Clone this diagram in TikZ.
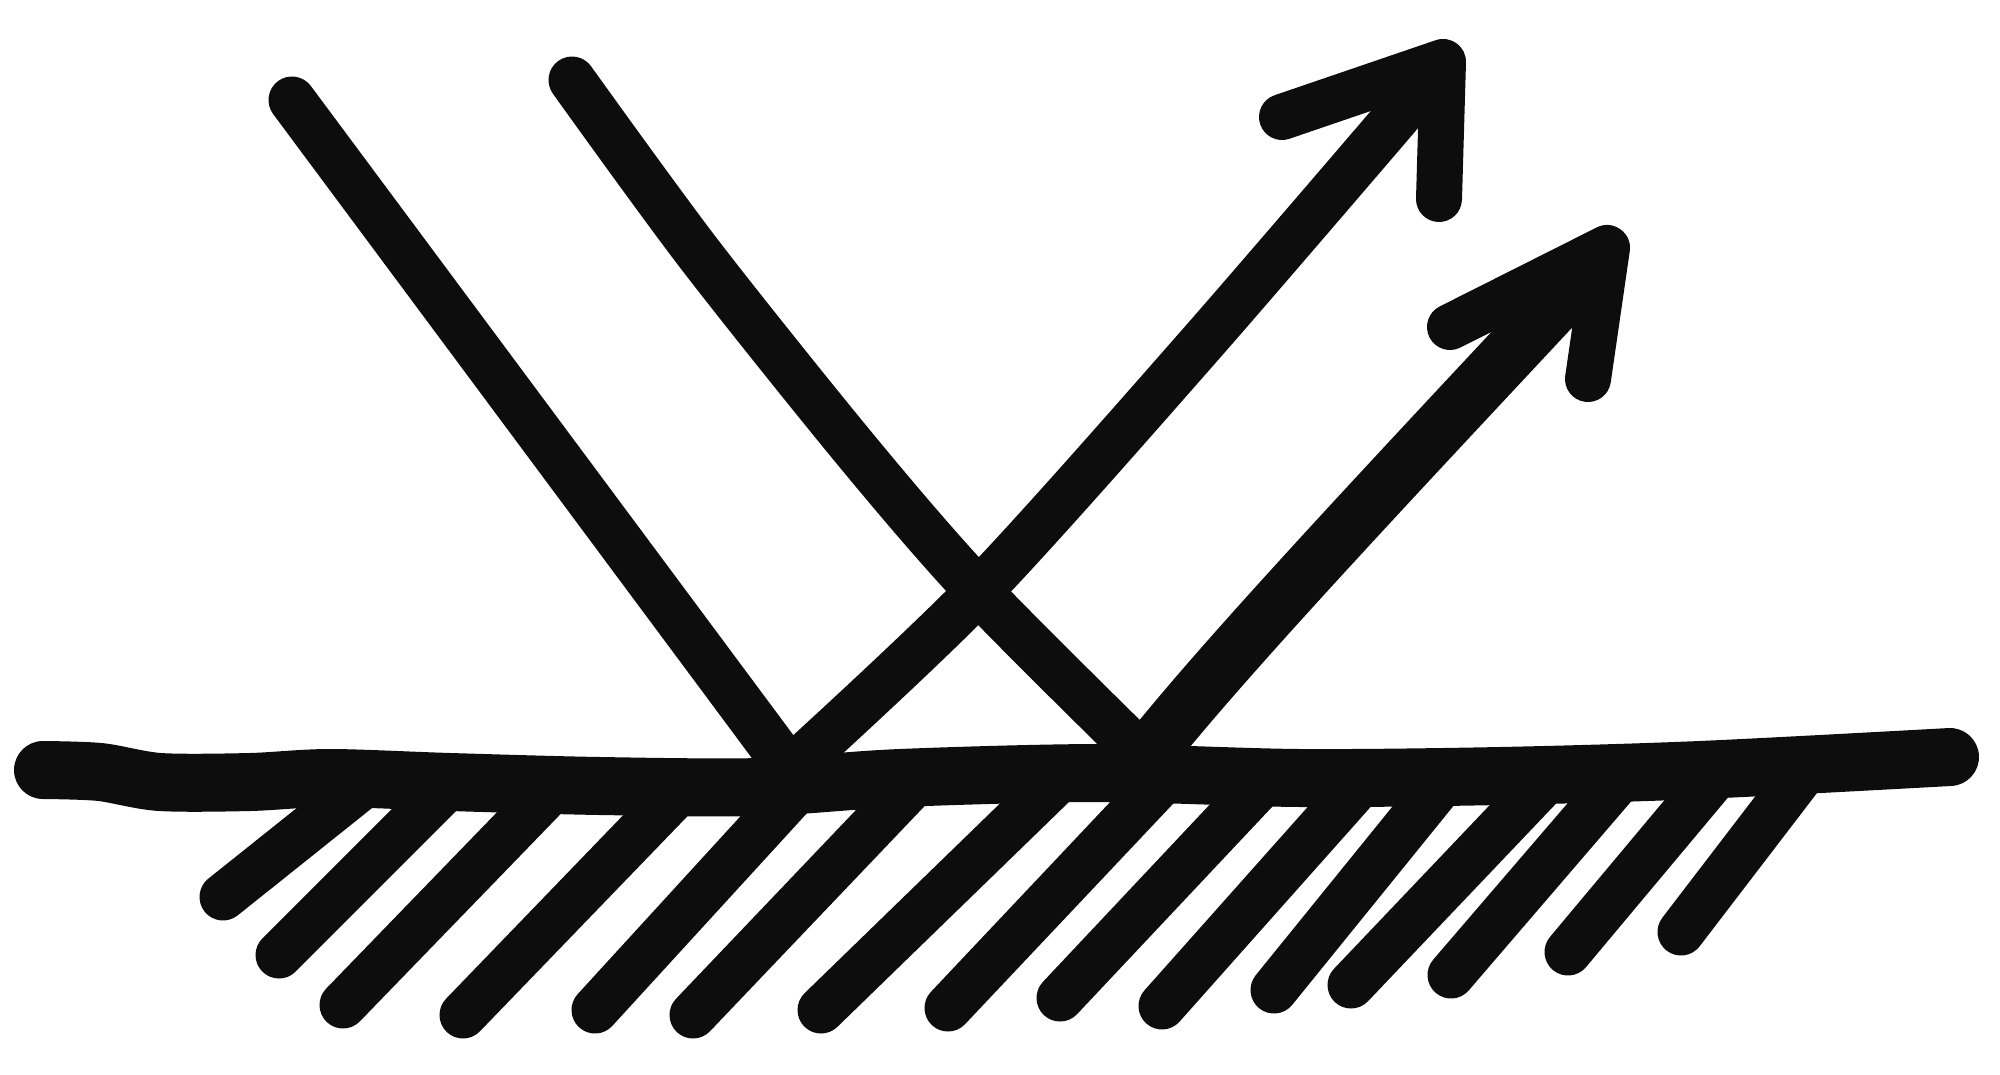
\documentclass[tikz,border=0pt]{standalone}
\usepackage{tikz}
\tikzstyle{surface} = [line width=5.8mm, line cap=round, line join=round]
\tikzstyle{hatch} = [line width=4.7mm, line cap=round]
\tikzstyle{ray} = [line width=4.7mm, line cap=round, line join=round]
\tikzstyle{head} = [line width=4.6mm, line cap=round, line join=round]

\begin{document}
\begin{tikzpicture}[x=0.1mm, y=-0.1mm, color=black!95]
	\useasboundingbox (0,0) rectangle (2000,1075);
	\coordinate (hit1) at (790,770);
	\coordinate (hit2) at (1145,758);
	\coordinate (tip1) at (1443,62);
	\coordinate (tip2) at (1607,248);
	% hatching under the surface
	\foreach \bx/\by/\tx/\ty in {223/897/367/782, 279/955/452/782, 343/1005/557/784,
		463/1015/684/786, 595/1010/800/786, 693/1015/917/780, 821/1010/1062/776,
		948/1008/1167/776, 1060/998/1267/778, 1162/1006/1364/779, 1274/990/1445/779,
		1351/985/1547/779, 1451/975/1622/776, 1568/952/1717/774, 1681/932/1805/770}
		\draw [hatch] (\bx,\by) -- (\tx,\ty);
	\draw [surface] plot[smooth] coordinates {(43,770) (100,772) (160,782) (250,782) (330,778) (450,782) (600,786) (760,787) (900,778) (1100,773) (1300,778) (1500,776) (1700,770) (1950,757)};
	% incoming rays
	\draw [ray] (292,100) -- (hit1);
	\draw [ray] plot[smooth] coordinates {(572,80) (700,255) (860,455) (980,593) (hit2)};
	% reflected rays
	\draw [ray] plot[smooth] coordinates {(hit1) (980,590) (1200,345) (1430,78)};
	\draw [ray, line width=5.6mm] (hit2) .. controls (1230,650) and (1420,450) .. (1595,262);
	\draw [head] (1282,117) -- (tip1) -- (1439,199);
	\draw [head] (1450,327) -- (tip2) -- (1588,379);
\end{tikzpicture}
\end{document}
